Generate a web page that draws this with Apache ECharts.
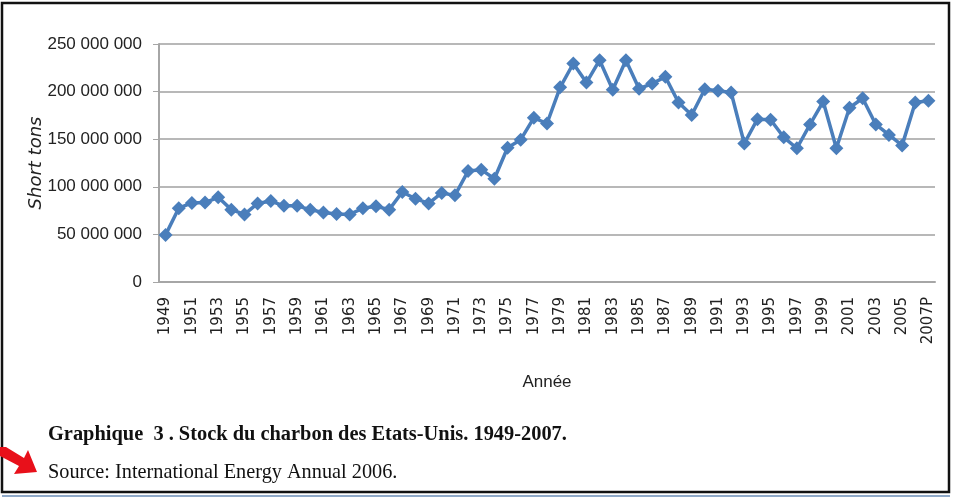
<!DOCTYPE html>
<html>
<head>
<meta charset="utf-8">
<script src="https://cdn.jsdelivr.net/npm/echarts@6/dist/echarts.min.js"></script>
<style>
  html, body { margin: 0; padding: 0; background: #fff; }
  #chart { width: 956px; height: 502px; }
</style>
</head>
<body>
<div id="chart"></div>
<script>
// années 1949 - 2007 (2007 provisoire)
var years = ['1949','1950','1951','1952','1953','1954','1955','1956','1957','1958',
  '1959','1960','1961','1962','1963','1964','1965','1966','1967','1968',
  '1969','1970','1971','1972','1973','1974','1975','1976','1977','1978',
  '1979','1980','1981','1982','1983','1984','1985','1986','1987','1988',
  '1989','1990','1991','1992','1993','1994','1995','1996','1997','1998',
  '1999','2000','2001','2002','2003','2004','2005','2006','2007P']

// stock de charbon, en short tons
var stock = [49500000, 77500000, 83000000, 83500000, 89000000, 76000000, 71000000, 82500000, 85000000, 80000000,
  80000000, 76000000, 73000000, 71500000, 71000000, 77500000, 79500000, 76000000, 94500000, 87500000,
  82500000, 93500000, 91000000, 116500000, 118000000, 108500000, 141000000, 149500000, 172500000, 166500000,
  204500000, 229500000, 209500000, 233000000, 202000000, 233000000, 203000000, 208500000, 215500000, 188500000,
  175500000, 202500000, 201000000, 199000000, 145500000, 171000000, 170500000, 152000000, 140500000, 165500000,
  189500000, 140500000, 183000000, 193000000, 165500000, 154500000, 143500000, 188500000, 190500000]

var yTicks = [0, 50000000, 100000000, 150000000, 200000000, 250000000]

var chart = echarts.init(document.getElementById('chart'))

var option = {
  backgroundColor: '#fff',
  animation: false,
  grid: {
    left: 159,
    right: 21,
    top: 44,
    bottom: 220
  },
  xAxis: {
    type: 'category',
    data: years,
    name: 'Année',
    nameLocation: 'middle',
    nameGap: 92,
    nameTextStyle: {
      fontFamily: 'Liberation Sans',
      fontSize: 17,
      color: '#222'
    },
    axisLine: { lineStyle: { color: '#a6a6a6', width: 2 } },
    axisTick: { show: false },
    axisLabel: {
      interval: 1,
      rotate: 90,
      margin: 15,
      fontFamily: 'DejaVu Sans',
      fontSize: 15,
      color: '#222'
    }
  },
  yAxis: {
    type: 'value',
    min: yTicks[0],
    max: yTicks[yTicks.length - 1],
    interval: 50000000,
    name: 'Short tons',
    nameLocation: 'middle',
    nameGap: 114,
    nameMoveOverlap: false,
    nameRotate: 90,
    nameTextStyle: {
      fontFamily: 'DejaVu Sans',
      fontStyle: 'italic',
      fontSize: 18,
      color: '#222'
    },
    axisLine: { show: true, lineStyle: { color: '#a6a6a6', width: 2 } },
    axisTick: { show: true, inside: false, length: 6, lineStyle: { color: '#a6a6a6' } },
    splitLine: { lineStyle: { color: '#b8b8b8', width: 2 } },
    axisLabel: {
      margin: 17,
      fontFamily: 'Liberation Sans',
      fontSize: 17,
      color: '#222',
      formatter: function (v) {
        return String(v).replace(/\B(?=(\d{3})+(?!\d))/g, ' ')
      }
    }
  },
  series: [{
    type: 'line',
    data: stock,
    symbol: 'diamond',
    symbolSize: 14,
    showAllSymbol: true,
    lineStyle: { color: '#4a7ebb', width: 3.5 },
    itemStyle: { color: '#4a7ebb' }
  }],
  graphic: [
    // cadre
    {
      type: 'rect',
      shape: { x: 2, y: 3, width: 947, height: 489 },
      style: { fill: 'none', stroke: '#111', lineWidth: 2.5 },
      silent: true
    },
    {
      type: 'line',
      shape: { x1: 2, y1: 496, x2: 950, y2: 496 },
      style: { stroke: '#8fa9c8', lineWidth: 2 },
      silent: true
    },
    {
      type: 'text',
      left: 48,
      top: 425,
      style: {
        text: 'Graphique  3 . Stock du charbon des Etats-Unis. 1949-2007.',
        font: 'bold 20.4px "Liberation Serif"',
        fill: '#111'
      }
    },
    {
      type: 'text',
      left: 48,
      top: 463,
      style: {
        text: 'Source: International Energy Annual 2006.',
        font: '20.3px "Liberation Serif"',
        fill: '#111'
      }
    },
    // flèche rouge
    {
      type: 'polygon',
      shape: {
        points: [[0, 447], [6, 447], [24, 458], [28, 450], [37, 472], [14, 474], [19, 466], [0, 456]]
      },
      style: { fill: '#e8101a' },
      silent: true
    }
  ]
}

chart.setOption(option)
</script>
</body>
</html>
